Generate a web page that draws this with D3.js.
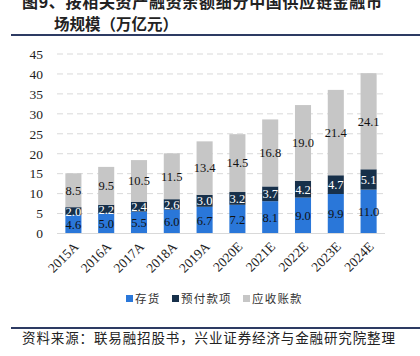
<!DOCTYPE html>
<html><head><meta charset="utf-8">
<script src="https://cdn.jsdelivr.net/npm/d3@7"></script>
<style>body{margin:0;background:#fff;}svg{display:block;}</style>
</head><body>
<svg id="c" width="420" height="356"></svg>
<script>
const categories = ["2015A","2016A","2017A","2018A","2019A","2020E","2021E","2022E","2023E","2024E"];
const inventory = [4.6,5.0,5.5,6.0,6.7,7.2,8.1,9.0,9.9,11.0];
const prepaid = [2.0,2.2,2.4,2.6,3.0,3.2,3.7,4.2,4.7,5.1];
const receivable = [8.5,9.5,10.5,11.5,13.4,14.5,16.8,19.0,21.4,24.1];
const seriesNames = ["存货","预付款项","应收账款"];
const yTicks = [0,5,10,15,20,25,30,35,40,45];
const titleLines = ["图9、按相关资产融资余额细分中国供应链金融市","场规模（万亿元）"];
const sourceText = "资料来源：联易融招股书，兴业证券经济与金融研究院整理";

const colors = ["#2a77d9","#17304a","#c6c6c6"];
const labelColors = ["#111","#fff","#111"];
const serif = "'Liberation Serif','Times New Roman',serif";
const cjk = "'Noto Sans CJK SC',sans-serif";

const svg = d3.select("#c");
const x = d3.scaleBand().domain(categories).range([57,385]).paddingInner(0.51).paddingOuter(0.255);
const y = d3.scaleLinear().domain([0,45]).range([233.5,54]);

// title
svg.append("text").attr("x",22).attr("y",8).attr("font-family",cjk).attr("font-weight","bold")
  .attr("font-size",16).attr("fill","#222").attr("textLength",360).attr("lengthAdjust","spacing").text(titleLines[0]);
svg.append("text").attr("x",54).attr("y",30).attr("font-family",cjk).attr("font-weight","bold")
  .attr("font-size",15.5).attr("fill","#222").text(titleLines[1]);
svg.append("line").attr("x1",11).attr("x2",420).attr("y1",35).attr("y2",35).attr("stroke","#2d3b63").attr("stroke-width",2);

// gridlines
svg.append("g").selectAll("line").data(yTicks.filter(d=>d>0)).join("line")
  .attr("x1",57).attr("x2",385).attr("y1",d=>y(d)).attr("y2",d=>y(d))
  .attr("stroke","#d9d9d9").attr("stroke-width",1).attr("stroke-dasharray","6,4");

// y axis labels
const yAxis = d3.axisLeft(y).tickValues(yTicks).tickSize(0).tickPadding(0).tickFormat(d3.format("d"));
const yg = svg.append("g").attr("transform","translate(43,0)").call(yAxis);
yg.select(".domain").remove();
yg.selectAll("text").attr("font-family",serif).attr("font-size",13.5).attr("fill","#222");

// stacked bars
const data = categories.map((c,i)=>({cat:c, s0:inventory[i], s1:prepaid[i], s2:receivable[i]}));
const stack = d3.stack().keys(["s0","s1","s2"])(data);
stack.forEach((layer,k)=>{
  const g = svg.append("g");
  g.selectAll("rect").data(layer).join("rect")
    .attr("x",d=>x(d.data.cat)).attr("width",x.bandwidth())
    .attr("y",d=>y(d[1])).attr("height",d=>y(d[0])-y(d[1]))
    .attr("fill",colors[k]);
  g.selectAll("text").data(layer).join("text")
    .attr("x",d=>x(d.data.cat)+x.bandwidth()/2)
    .attr("y",d=>(y(d[0])+y(d[1]))/2)
    .attr("dy","0.35em").attr("text-anchor","middle")
    .attr("font-family",serif).attr("font-size",12.5).attr("fill",labelColors[k])
    .text(d=>d3.format(".1f")(d[1]-d[0]));
});

// baseline
svg.append("line").attr("x1",57).attr("x2",385).attr("y1",y(0)).attr("y2",y(0)).attr("stroke","#d9d9d9").attr("stroke-width",1);

// x axis labels
const xAxis = d3.axisBottom(x).tickSize(0).tickPadding(0);
const xg = svg.append("g").attr("transform","translate(0,"+y(0)+")").call(xAxis);
xg.select(".domain").remove();
xg.selectAll("text").attr("font-family",serif).attr("font-size",13.5).attr("fill","#222")
  .attr("text-anchor","end").attr("dy",null).attr("y",0)
  .attr("transform","translate(6,14) rotate(-45)");

// legend
const legendX = [126,172,243];
const lg = svg.append("g");
seriesNames.forEach((n,i)=>{
  lg.append("rect").attr("x",legendX[i]).attr("y",295).attr("width",7).attr("height",7).attr("fill",colors[i]);
  lg.append("text").attr("x",legendX[i]+9).attr("y",303).attr("font-family",cjk).attr("font-size",11.5)
    .attr("fill","#333").attr("letter-spacing",1.2).text(n);
});

// source
svg.append("line").attr("x1",11).attr("x2",420).attr("y1",328).attr("y2",328).attr("stroke","#2d3b63").attr("stroke-width",2);
svg.append("text").attr("x",22).attr("y",343).attr("font-family",cjk).attr("font-size",13.5)
  .attr("fill","#222").attr("textLength",373).attr("lengthAdjust","spacing").text(sourceText);
</script>
</body></html>
